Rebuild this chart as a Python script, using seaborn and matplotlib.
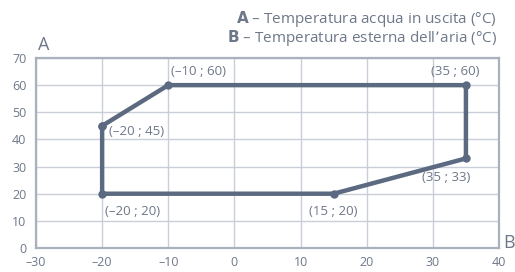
import pandas as pd
import matplotlib.pyplot as plt
import seaborn as sns

# Operating envelope corners (outside air temp, water outlet temp)
air_temp = [-20, -10, 35, 35, 15, -20, -20]
water_temp = [45, 60, 60, 33, 20, 20, 45]
point_labels = ['(-20 ; 45)', '(-10 ; 60)', '(35 ; 60)', '(35 ; 33)', '(15 ; 20)', '(-20 ; 20)']
x_ticks = [-30, -20, -10, 0, 10, 20, 30, 40]
y_ticks = [0, 10, 20, 30, 40, 50, 60, 70]

line_color = '#5b6a80'
text_color = '#6e7889'
grid_color = '#c9ced8'
dash = '\u2013'

sns.set_style('white')
plt.rcParams['font.family'] = ['Open Sans', 'DejaVu Sans']

df = pd.DataFrame({'B': air_temp, 'A': water_temp})

fig = plt.figure(figsize=(5.15, 2.72), dpi=100)
ax = fig.add_axes([36 / 515, 24 / 272, 463 / 515, 190 / 272])

# estimator=None so repeated x values are not averaged
sns.lineplot(data=df, x='B', y='A', sort=False, estimator=None,
             color=line_color, linewidth=3.2, marker='o', markersize=6,
             markeredgewidth=0, ax=ax, clip_on=False, zorder=5)

ax.set_xlim(-30, 40)
ax.set_ylim(0, 70)
ax.set_xticks(x_ticks)
ax.set_yticks(y_ticks)
ax.set_xticklabels([str(t).replace('-', dash) for t in x_ticks])
ax.set_yticklabels([str(t) for t in y_ticks])
ax.tick_params(length=0, labelsize=9, labelcolor=text_color)
ax.tick_params(axis='x', pad=6)
ax.tick_params(axis='y', pad=7)
for lbl in ax.get_yticklabels():
    lbl.set_verticalalignment('center_baseline')
ax.grid(True, color=grid_color, linewidth=1)
for s in ax.spines.values():
    s.set_color('#a9b1be')
    s.set_linewidth(1.6)
ax.set_xlabel('')
ax.set_ylabel('')

# Corner annotations
offsets = {
    '(-20 ; 45)': (5, -4, 'left', 'center'),
    '(-10 ; 60)': (2, 5, 'left', 'bottom'),
    '(35 ; 60)': (10, 5, 'right', 'bottom'),
    '(35 ; 33)': (3, -9, 'right', 'top'),
    '(15 ; 20)': (0, -8, 'center', 'top'),
    '(-20 ; 20)': (2, -8, 'left', 'top'),
}
for (x, y), lab in zip(zip(air_temp[:-1], water_temp[:-1]), point_labels):
    dx, dy, ha, va = offsets[lab]
    ax.annotate(lab.replace('-', dash), (x, y), xytext=(dx, dy), textcoords='offset points',
                ha=ha, va=va, fontsize=9.5, color=text_color)

fig.text(38 / 515, 1 - 45 / 272, 'A', fontsize=13, color=text_color, va='center', ha='left')
fig.text(503 / 515, 1 - 243 / 272, 'B', fontsize=13, color=text_color, va='center', ha='left')

fig.text(497 / 515, 1 - 19 / 272, r'$\bf{A}$ ' + dash + ' Temperatura acqua in uscita (°C)',
         fontsize=11, color=text_color, ha='right', va='center')
fig.text(497 / 515, 1 - 38 / 272, r'$\bf{B}$ ' + dash + ' Temperatura esterna dell’aria (°C)',
         fontsize=11, color=text_color, ha='right', va='center')

fig.savefig('out.png', dpi=100)
